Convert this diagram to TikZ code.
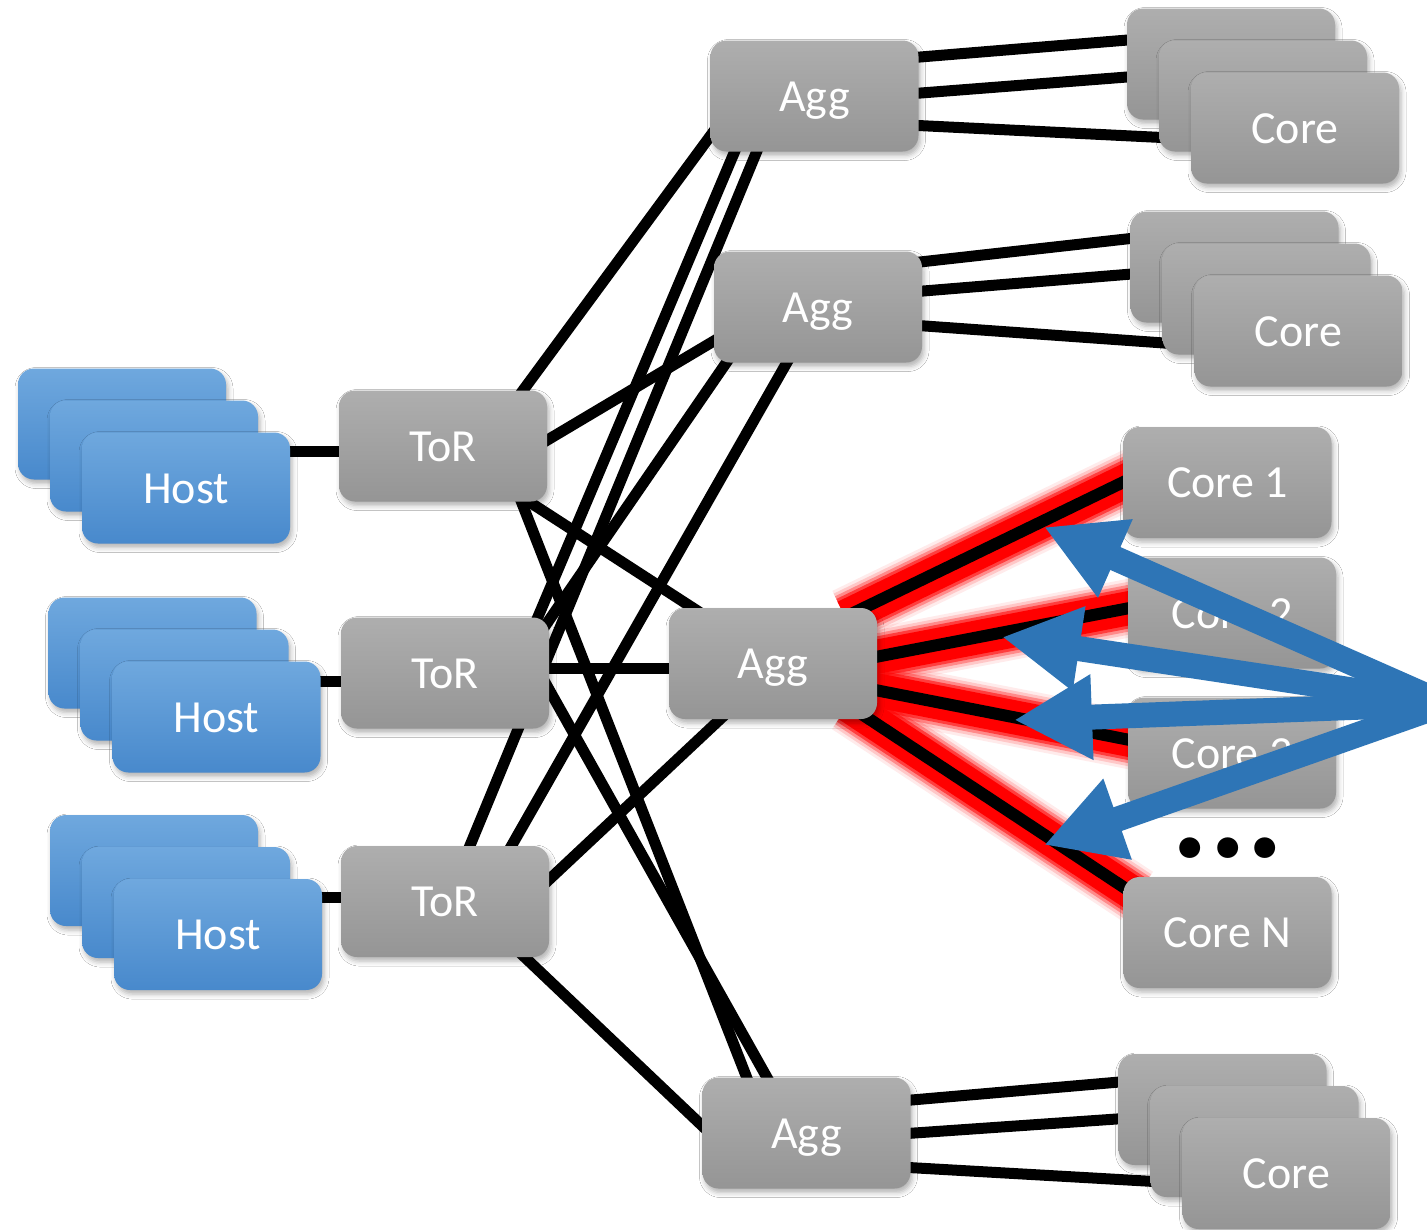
\documentclass[tikz,border=0pt]{standalone}
\usepackage{fontspec}
\setmainfont{Carlito}
\usetikzlibrary{calc,shadows.blur,arrows.meta}
\definecolor{gtop}{HTML}{AEAEAE}
\definecolor{gbot}{HTML}{959595}
\definecolor{htop}{HTML}{6FA8DE}
\definecolor{hbot}{HTML}{4889CC}
\definecolor{arrowblue}{HTML}{2E75B6}
\pgfdeclarelayer{bg}
\pgfdeclarelayer{fg}
\pgfsetlayers{bg,main,fg}
\begin{document}
\begin{tikzpicture}[x=1pt,y=-1pt,
  box/.style={rectangle, rounded corners=16pt, minimum width=208pt, minimum height=111pt,
    inner sep=0pt, text=white, font=\fontsize{46}{50}\selectfont, text height=30pt, text depth=0pt,
    blur shadow={shadow xshift=2pt, shadow yshift=-4pt, shadow blur radius=5pt, shadow opacity=30}},
  gbox/.style={box, top color=gtop, bottom color=gbot},
  hbox/.style={box, top color=htop, bottom color=hbot},
  link/.style={line width=11pt, black},
  hotlink/.style={line width=12pt, black},
  glowpass/.style={draw=none,
    preaction={draw=red, line width=58pt, opacity=.08},
    preaction={draw=red, line width=52pt, opacity=.15},
    preaction={draw=red, line width=46pt, opacity=.3},
    preaction={draw=red, line width=40pt, opacity=.55},
    preaction={draw=red, line width=34pt}},
  barrow/.style={draw=arrowblue, line width=25pt, -{Triangle[length=78pt,width=80pt]}}
]
\useasboundingbox (0,0) rectangle (1427,1229);

% Hosts
\node[hbox] (h1a) at (122,424) {};
\node[hbox] (h1b) at (154,456) {};
\node[hbox] (h1c) at (186,488) {Host};
\node[hbox] (h2a) at (152.5,653) {};
\node[hbox] (h2b) at (184.5,685) {};
\node[hbox] (h2c) at (216.5,717) {Host};
\node[hbox] (h3a) at (154,870.5) {};
\node[hbox] (h3b) at (186,902.5) {};
\node[hbox] (h3c) at (218,934.5) {Host};

% ToR
\node[gbox] (t1) at (443,446) {ToR};
\node[gbox] (t2) at (445,673) {ToR};
\node[gbox] (t3) at (445,901.5) {ToR};

% Agg
\node[gbox] (a1) at (814.5,96) {Agg};
\node[gbox] (a2) at (818,307) {Agg};
\node[gbox] (a3) at (773,663.5) {Agg};
\node[gbox] (a4) at (806.5,1133) {Agg};

% Core stacks
\node[gbox] (caA) at (1231,64) {};
\node[gbox] (caB) at (1263,96) {};
\node[gbox] (caC) at (1295,128) {Core};
\node[gbox] (cbA) at (1234.5,267) {};
\node[gbox] (cbB) at (1266.5,299) {};
\node[gbox] (cbC) at (1298.5,331) {Core};
\node[gbox] (ccA) at (1222.5,1109.5) {};
\node[gbox] (ccB) at (1254.5,1141.5) {};
\node[gbox] (ccC) at (1286.5,1173.5) {Core};

% Core list
\node[gbox] (c1) at (1227.5,482.5) {Core 1};
\node[gbox] (c2) at (1232,613) {Core 2};
\node[gbox] (c3) at (1232,753) {Core 3};
\node[gbox] (cn) at (1227.5,932.5) {Core N};
\node[font=\fontsize{140}{140}\selectfont\bfseries, anchor=base, inner sep=0pt] (dots) at (1228,857) {...};

\begin{pgfonlayer}{bg}
\fill[white] (0,0) rectangle (1427,1229);
% host - tor
\draw[link] ($(h1c)+(94,-37)$) -- ($(t1)+(-93,5)$);
\draw[link] ($(h2c)+(93.5,-36)$) -- ($(t2)+(-93,8)$);
\draw[link] ($(h3c)+(94,-37.5)$) -- ($(t3)+(-93,-4.5)$);
% tor - agg
\draw[link] ($(t1)+(70,-42)$) -- ($(a1)+(-89.5,20)$);
\draw[link] ($(t1)+(91,2)$) -- ($(a2)+(-89,25)$);
\draw[link] ($(t1)+(71,46)$) -- ($(a3)+(-63,-44.5)$);
\draw[link] ($(t1)+(73,42)$) -- ($(a4)+(-54.5,-42)$);
\draw[link] ($(t2)+(87,-42)$) -- ($(a1)+(-77.5,50)$);
\draw[link] ($(t2)+(98,-44)$) -- ($(a2)+(-83,43)$);
\draw[link] ($(t2)+(95,-5)$) -- ($(a3)+(-93,4.5)$);
\draw[link] ($(t2)+(97,4)$) -- ($(a4)+(-32.5,-43)$);
\draw[link] ($(t3)+(19,-41.5)$) -- ($(a1)+(-55.5,50)$);
\draw[link] ($(t3)+(59,-42.5)$) -- ($(a2)+(-24,43)$);
\draw[link] ($(t3)+(93,-11.5)$) -- ($(a3)+(-42,45.5)$);
\draw[link] ($(t3)+(69,45.5)$) -- ($(a4)+(-92.5,4)$);
% agg - core stacks
\draw[link] ($(a1)+(93.5,-38)$) -- ($(caA)+(-91,-25)$);
\draw[link] ($(a1)+(93.5,-2)$) -- ($(caA)+(-91,12)$);
\draw[link] ($(a1)+(93.5,29)$) -- ($(caB)+(-91,42)$);
\draw[link] ($(a2)+(93,-44)$) -- ($(cbA)+(-90.5,-30)$);
\draw[link] ($(a2)+(93,-15)$) -- ($(cbA)+(-90.5,6)$);
\draw[link] ($(a2)+(93,18)$) -- ($(cbB)+(-88.5,45)$);
\draw[link] ($(a4)+(93.5,-32)$) -- ($(ccA)+(-91.5,-28.5)$);
\draw[link] ($(a4)+(93.5,1)$) -- ($(ccA)+(-91.5,8.5)$);
\draw[link] ($(a4)+(93.5,34)$) -- ($(ccB)+(-91.5,40.5)$);
% hot links: glow first
\path[glowpass] ($(a3)+(72,-46.5)$) -- ($(c1)+(-87.5,-8.5)$);
\path[glowpass] ($(a3)+(92,-4.5)$) -- ($(c2)+(-92,-7)$);
\path[glowpass] ($(a3)+(92,24.5)$) -- ($(c3)+(-92,-11)$);
\path[glowpass] ($(a3)+(75,41.5)$) -- ($(cn)+(-90.5,-36.5)$);
\draw[hotlink] ($(a3)+(72,-46.5)$) -- ($(c1)+(-87.5,-8.5)$);
\draw[hotlink] ($(a3)+(92,-4.5)$) -- ($(c2)+(-92,-7)$);
\draw[hotlink] ($(a3)+(92,24.5)$) -- ($(c3)+(-92,-11)$);
\draw[hotlink] ($(a3)+(75,41.5)$) -- ($(cn)+(-90.5,-36.5)$);
\end{pgfonlayer}

\begin{pgfonlayer}{fg}
\coordinate (src) at (1445,704);
\coordinate (tip1) at (1044,527);
\coordinate (tip2) at (1002,637);
\coordinate (tip3) at (1014,720);
\coordinate (tip4) at (1044,845);
\draw[barrow] (src) -- (tip1);
\draw[barrow] (src) -- (tip2);
\draw[barrow] (src) -- (tip3);
\draw[barrow] (src) -- (tip4);
\end{pgfonlayer}
\end{tikzpicture}
\end{document}
